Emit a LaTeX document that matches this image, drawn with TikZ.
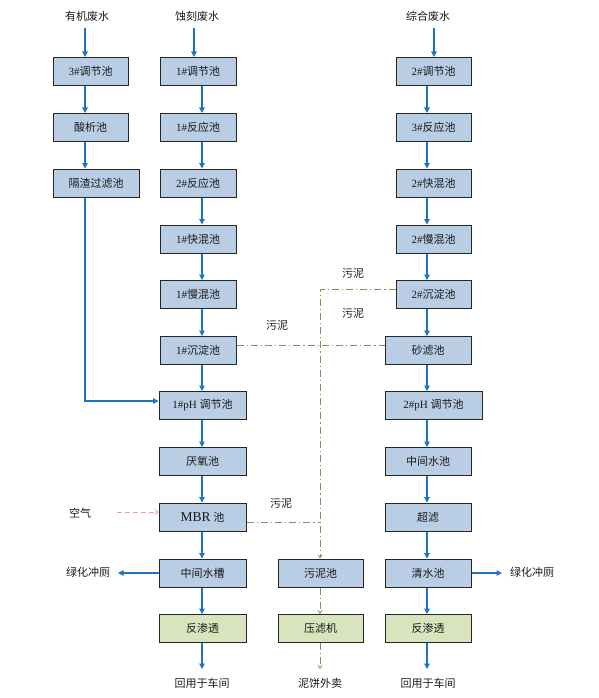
\documentclass[tikz,border=0pt]{standalone}
\usepackage{fontspec}
\setmainfont{Liberation Serif}
\newfontfamily\cjk{Noto Sans CJK SC}
\newcommand{\zh}[1]{{\cjk #1}}
\usetikzlibrary{arrows.meta}
\definecolor{boxblue}{HTML}{B9CDE5}
\definecolor{boxgreen}{HTML}{D7E4BD}
\definecolor{flowblue}{HTML}{1F72C4}
\definecolor{sludge}{HTML}{948A54}
\definecolor{airred}{HTML}{E6A0A0}
\definecolor{txt}{HTML}{1A1A1A}
\begin{document}
\begin{tikzpicture}[x=1pt,y=-1pt,
  every node/.style={text=txt,font=\fontsize{11}{13}\selectfont},
  tank/.style={draw=black!85,line width=1pt,fill=boxblue,minimum height=28pt,inner sep=0pt,anchor=center},
  rotank/.style={tank,fill=boxgreen},
  lbl/.style={inner sep=1pt},
  flow/.style={draw=flowblue,line width=1.1pt,-{Triangle[length=5.5pt,width=5.5pt]}},
  mud/.style={draw=sludge,line width=0.8pt,dash pattern=on 7pt off 3pt on 1.2pt off 3pt},
  mudarrow/.style={mud,-{Straight Barb[length=3pt,width=4pt]}},
  air/.style={draw=airred,line width=0.8pt,dash pattern=on 5pt off 3pt,-{Straight Barb[length=3pt,width=5pt]}}
]
\useasboundingbox (0,0) rectangle (599,698);
% column x references
\coordinate (x1) at (85,0);
\coordinate (x2t) at (194,0);
\coordinate (x2) at (202,0);
\coordinate (xs) at (320,0);
\coordinate (x3t) at (434,0);
\coordinate (x3) at (427,0);

% top labels
\node[lbl] (in1) at (87,16) {\zh{有机废水}};
\node[lbl] (in2) at (197,16) {\zh{蚀刻废水}};
\node[lbl] (in3) at (428,16) {\zh{综合废水}};

% column 1
\node[tank,minimum width=75pt] (c1a) at (90.5,71.5) {3\#\zh{调节池}};
\node[tank,minimum width=75pt] (c1b) at (90.5,127.5) {\zh{酸析池}};
\node[tank,minimum width=86pt] (c1c) at (96,183) {\zh{隔渣过滤池}};

% column 2
\node[tank,minimum width=76pt] (a1) at (198,71.5) {1\#\zh{调节池}};
\node[tank,minimum width=76pt] (a2) at (198,127.5) {1\#\zh{反应池}};
\node[tank,minimum width=76pt] (a3) at (198,183) {2\#\zh{反应池}};
\node[tank,minimum width=76pt] (a4) at (198,239) {1\#\zh{快混池}};
\node[tank,minimum width=76pt] (a5) at (198,294.5) {1\#\zh{慢混池}};
\node[tank,minimum width=76pt] (a6) at (198,350.5) {1\#\zh{沉淀池}};
\node[tank,minimum width=87pt] (a7) at (202.5,405.5) {1\#pH \zh{调节池}};
\node[tank,minimum width=87pt] (a8) at (202.5,461.5) {\zh{厌氧池}};
\node[tank,minimum width=87pt] (a9) at (202.5,517) {{\fontsize{13.5}{15}\selectfont MBR} \zh{池}};
\node[tank,minimum width=87pt] (a10) at (202.5,573) {\zh{中间水槽}};
\node[rotank,minimum width=87pt] (a11) at (202.5,628.5) {\zh{反渗透}};

% sludge column
\node[tank,minimum width=85pt] (s1) at (320.5,573) {\zh{污泥池}};
\node[rotank,minimum width=85pt] (s2) at (320.5,628.5) {\zh{压滤机}};

% column 3
\node[tank,minimum width=75pt] (b1) at (433.5,71.5) {2\#\zh{调节池}};
\node[tank,minimum width=75pt] (b2) at (433.5,127.5) {3\#\zh{反应池}};
\node[tank,minimum width=75pt] (b3) at (433.5,183) {2\#\zh{快混池}};
\node[tank,minimum width=75pt] (b4) at (433.5,239) {2\#\zh{慢混池}};
\node[tank,minimum width=75pt] (b5) at (433.5,294.5) {2\#\zh{沉淀池}};
\node[tank,minimum width=86pt] (b6) at (428,350.5) {\zh{砂滤池}};
\node[tank,minimum width=97pt] (b7) at (433.5,405.5) {2\#pH \zh{调节池}};
\node[tank,minimum width=86pt] (b8) at (428,461.5) {\zh{中间水池}};
\node[tank,minimum width=86pt] (b9) at (428,517) {\zh{超滤}};
\node[tank,minimum width=86pt] (b10) at (428,573) {\zh{清水池}};
\node[rotank,minimum width=86pt] (b11) at (428,628.5) {\zh{反渗透}};

% side and bottom labels
\node[lbl] (airl) at (80,513) {\zh{空气}};
\node[lbl] (outL) at (88,572) {\zh{绿化冲厕}};
\node[lbl] (outR) at (532,572) {\zh{绿化冲厕}};
\node[lbl] (out1) at (202,683) {\zh{回用于车间}};
\node[lbl] (out2) at (320,683) {\zh{泥饼外卖}};
\node[lbl] (out3) at (428,683) {\zh{回用于车间}};
\node[lbl] (m1) at (277,325) {\zh{污泥}};
\node[lbl] (m2) at (353,273) {\zh{污泥}};
\node[lbl] (m3) at (353,313) {\zh{污泥}};
\node[lbl] (m4) at (281,503) {\zh{污泥}};

% arrow end coordinates
\coordinate (eL) at (118,573);
\coordinate (eR) at (502,573);
\coordinate (e1) at (202,669);
\coordinate (e2) at (320,669);
\coordinate (e3) at (427,669);
\coordinate (eair) at (117,512);

% column 1 flow
\draw[flow] (in1.south -| x1) ++(0,-6pt) -- (c1a.north -| x1);
\draw[flow] (c1a.south -| x1) -- (c1b.north -| x1);
\draw[flow] (c1b.south -| x1) -- (c1c.north -| x1);
\draw[flow] (c1c.south -| x1) |- ([yshift=4.5pt]a7.west);

% column 2 flow
\draw[flow] (in2.south -| x2t) ++(0,-6pt) -- (a1.north -| x2t);
\draw[flow] (a1.south -| x2) -- (a2.north -| x2);
\draw[flow] (a2.south -| x2) -- (a3.north -| x2);
\draw[flow] (a3.south -| x2) -- (a4.north -| x2);
\draw[flow] (a4.south -| x2) -- (a5.north -| x2);
\draw[flow] (a5.south -| x2) -- (a6.north -| x2);
\draw[flow] (a6.south -| x2) -- (a7.north -| x2);
\draw[flow] (a7.south -| x2) -- (a8.north -| x2);
\draw[flow] (a8.south -| x2) -- (a9.north -| x2);
\draw[flow] (a9.south -| x2) -- (a10.north -| x2);
\draw[flow] (a10.south -| x2) -- (a11.north -| x2);
\draw[flow] (a11.south -| x2) -- (e1);
\draw[flow] (a10.west) -- (eL);

% column 3 flow
\draw[flow] (in3.south -| x3t) ++(0,-6pt) -- (b1.north -| x3t);
\draw[flow] (b1.south -| x3) -- (b2.north -| x3);
\draw[flow] (b2.south -| x3) -- (b3.north -| x3);
\draw[flow] (b3.south -| x3) -- (b4.north -| x3);
\draw[flow] (b4.south -| x3) -- (b5.north -| x3);
\draw[flow] (b5.south -| x3) -- (b6.north -| x3);
\draw[flow] (b6.south -| x3) -- (b7.north -| x3);
\draw[flow] (b7.south -| x3) -- (b8.north -| x3);
\draw[flow] (b8.south -| x3) -- (b9.north -| x3);
\draw[flow] (b9.south -| x3) -- (b10.north -| x3);
\draw[flow] (b10.south -| x3) -- (b11.north -| x3);
\draw[flow] (b11.south -| x3) -- (e3);
\draw[flow] (b10.east) -- (eR);

% air
\draw[air] (eair) -- (a9.west |- eair);

% sludge lines
\draw[mud] ([yshift=5.5pt]a6.east) -- ([yshift=5.5pt]b6.west);
\draw[mudarrow] ([yshift=5.5pt]b5.west) -| (s1.north -| xs);
\draw[mud] ([yshift=-5pt]a9.east) -- ([yshift=-5pt]a9.east -| xs);
\draw[mudarrow] (s1.south -| xs) -- (s2.north -| xs);
\draw[mudarrow] (s2.south -| xs) -- (e2);
\end{tikzpicture}
\end{document}
